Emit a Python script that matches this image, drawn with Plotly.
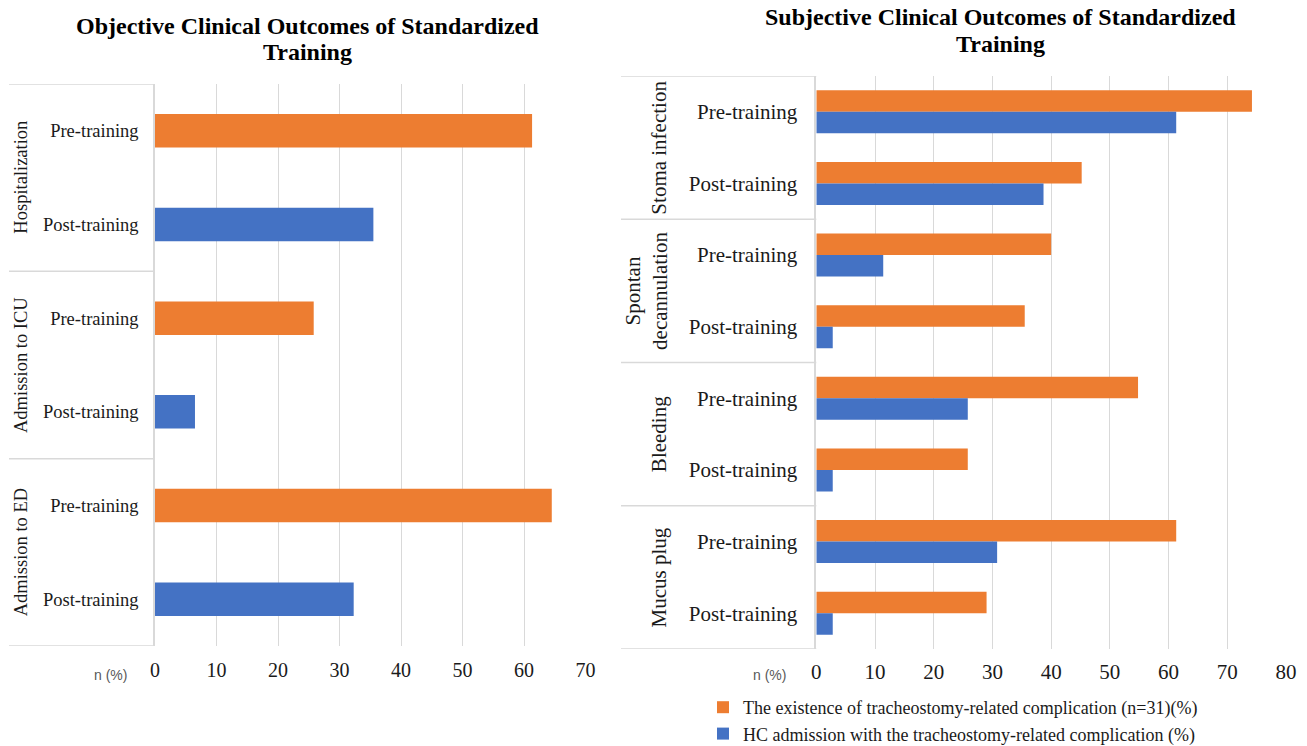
import plotly.graph_objects as go

# ---- data ---------------------------------------------------------------
phases = ["Pre-training", "Post-training"]

objective_groups = ["Hospitalization", "Admission to ICU", "Admission to ED"]
objective_values = [61.3, 35.5, 25.8, 6.5, 64.5, 32.3]   # n (%), pre/post per group

subjective_groups = ["Stoma infection", "Spontan<br>decannulation", "Bleeding", "Mucus plug"]
complication_exists = [74.2, 45.2, 40.0, 35.5, 54.8, 25.8, 61.3, 29.0]   # (n=31)(%)
hc_admission = [61.3, 38.7, 11.4, 2.8, 25.8, 2.8, 30.8, 2.8]            # (%)

left_ticks = [0, 10, 20, 30, 40, 50, 60, 70]
right_ticks = [0, 10, 20, 30, 40, 50, 60, 70, 80]

# ---- style --------------------------------------------------------------
W, H = 1307, 746
ORANGE = "#ED7D31"
BLUE = "#4472C4"
GRID = "#d9d9d9"
SERIF = "Liberation Serif, Times New Roman, serif"
TXT = "#1a1a1a"

def px_x(p):
    return p / W

def px_y(p):
    return 1 - p / H

phase_color = {"Pre-training": ORANGE, "Post-training": BLUE}

left_pos = list(range(len(objective_groups) * len(phases)))
left_labels = [ph for _ in objective_groups for ph in phases]
right_pos = list(range(len(subjective_groups) * len(phases)))
right_labels = [ph for _ in subjective_groups for ph in phases]

fig = go.Figure()

# left panel: one bar per group/phase, coloured by phase
fig.add_trace(go.Bar(
    x=objective_values, y=left_pos, orientation="h",
    marker=dict(color=[phase_color[p] for p in left_labels], line=dict(width=0)),
    width=0.357, xaxis="x", yaxis="y", showlegend=False,
    hovertemplate="%{x}<extra></extra>",
))

# right panel: two series per group/phase
fig.add_trace(go.Bar(
    x=complication_exists, y=right_pos, orientation="h",
    name="The existence of tracheostomy-related complication (n=31)(%)",
    marker=dict(color=ORANGE, line=dict(width=0)),
    width=0.3, offset=-0.3, xaxis="x2", yaxis="y2", legendgroup="a",
))
fig.add_trace(go.Bar(
    x=hc_admission, y=right_pos, orientation="h",
    name="HC admission with the tracheostomy-related complication (%)",
    marker=dict(color=BLUE, line=dict(width=0)),
    width=0.3, offset=0.0, xaxis="x2", yaxis="y2", legendgroup="b",
))

left_dom_y = [px_y(646), px_y(84)]
right_dom_y = [px_y(649), px_y(76)]

fig.update_layout(
    width=W, height=H,
    margin=dict(l=0, r=0, t=0, b=0, autoexpand=False),
    paper_bgcolor="white", plot_bgcolor="white",
    barmode="overlay",
    font=dict(family=SERIF, color=TXT),
    xaxis=dict(
        domain=[px_x(155), px_x(585.6)], range=[0, 70],
        tickvals=left_ticks, showgrid=True, gridcolor=GRID, gridwidth=1,
        zeroline=False, showline=False, ticks="",
        tickfont=dict(size=20, family=SERIF, color=TXT),
        ticklabelstandoff=10, anchor="y", fixedrange=True,
    ),
    yaxis=dict(
        domain=left_dom_y, range=[len(left_pos) - 0.5, -0.5],
        tickvals=left_pos, ticktext=left_labels,
        showgrid=False, zeroline=False, showline=True, linecolor=GRID, linewidth=1.5,
        ticks="", tickfont=dict(size=18.5, family=SERIF, color=TXT),
        ticklabelstandoff=11, anchor="x", fixedrange=True,
    ),
    xaxis2=dict(
        domain=[px_x(816.3), px_x(1286)], range=[0, 80],
        tickvals=right_ticks, showgrid=True, gridcolor=GRID, gridwidth=1,
        zeroline=False, showline=False, ticks="",
        tickfont=dict(size=21, family=SERIF, color=TXT),
        ticklabelstandoff=8, anchor="y2", fixedrange=True,
    ),
    yaxis2=dict(
        domain=right_dom_y, range=[len(right_pos) - 0.5, -0.5],
        tickvals=right_pos, ticktext=right_labels,
        showgrid=False, zeroline=False, showline=True, linecolor=GRID, linewidth=1.5,
        ticks="", tickfont=dict(size=21, family=SERIF, color=TXT),
        ticklabelstandoff=13, anchor="x2", fixedrange=True,
    ),
    legend=dict(
        orientation="v", x=px_x(703), y=px_y(689), xanchor="left", yanchor="top",
        font=dict(size=18, family=SERIF, color=TXT),
        itemwidth=30, tracegroupgap=0, traceorder="grouped",
        bgcolor="rgba(0,0,0,0)",
    ),
    showlegend=True,
)

# group separators and group labels in the category area
def group_frame(groups, yref, x_left_px, x_right_px, label_x_px, size):
    n = len(phases)
    for k in range(len(groups) + 1):
        fig.add_shape(type="line", xref="paper", yref=yref,
                      x0=px_x(x_left_px), x1=px_x(x_right_px),
                      y0=k * n - 0.5, y1=k * n - 0.5,
                      line=dict(color=GRID, width=1.5), layer="below")
    for k, g in enumerate(groups):
        cx = label_x_px - (12 if "<br>" in g else 0)
        fig.add_annotation(text=g, xref="paper", yref=yref,
                           x=px_x(cx), y=k * n + (n - 1) / 2,
                           textangle=-90, showarrow=False,
                           xanchor="center", yanchor="middle",
                           font=dict(size=size, family=SERIF, color=TXT))

group_frame(objective_groups, "y", 9, 155, 21, 18.5)
group_frame(subjective_groups, "y2", 621, 816.3, 659, 21)

# panel titles, one annotation per line
def title(lines, cx, ys):
    for line, cy in zip(lines, ys):
        fig.add_annotation(text=f"<b>{line}</b>", xref="paper", yref="paper",
                           x=px_x(cx), y=px_y(cy), showarrow=False,
                           xanchor="center", yanchor="middle",
                           font=dict(size=24, family=SERIF, color="black"))

title(["Objective Clinical Outcomes of Standardized", "Training"], 307, [26, 52])
title(["Subjective Clinical Outcomes of Standardized", "Training"], 1000, [17, 44])

# unit labels next to the value axes
for cx in (110.6, 769.7):
    fig.add_annotation(text="n (%)", xref="paper", yref="paper",
                       x=px_x(cx), y=px_y(675), showarrow=False,
                       xanchor="center", yanchor="middle",
                       font=dict(size=14, family="Liberation Sans, Arial, sans-serif",
                                 color="#595959"))

fig.write_html("out.html")
